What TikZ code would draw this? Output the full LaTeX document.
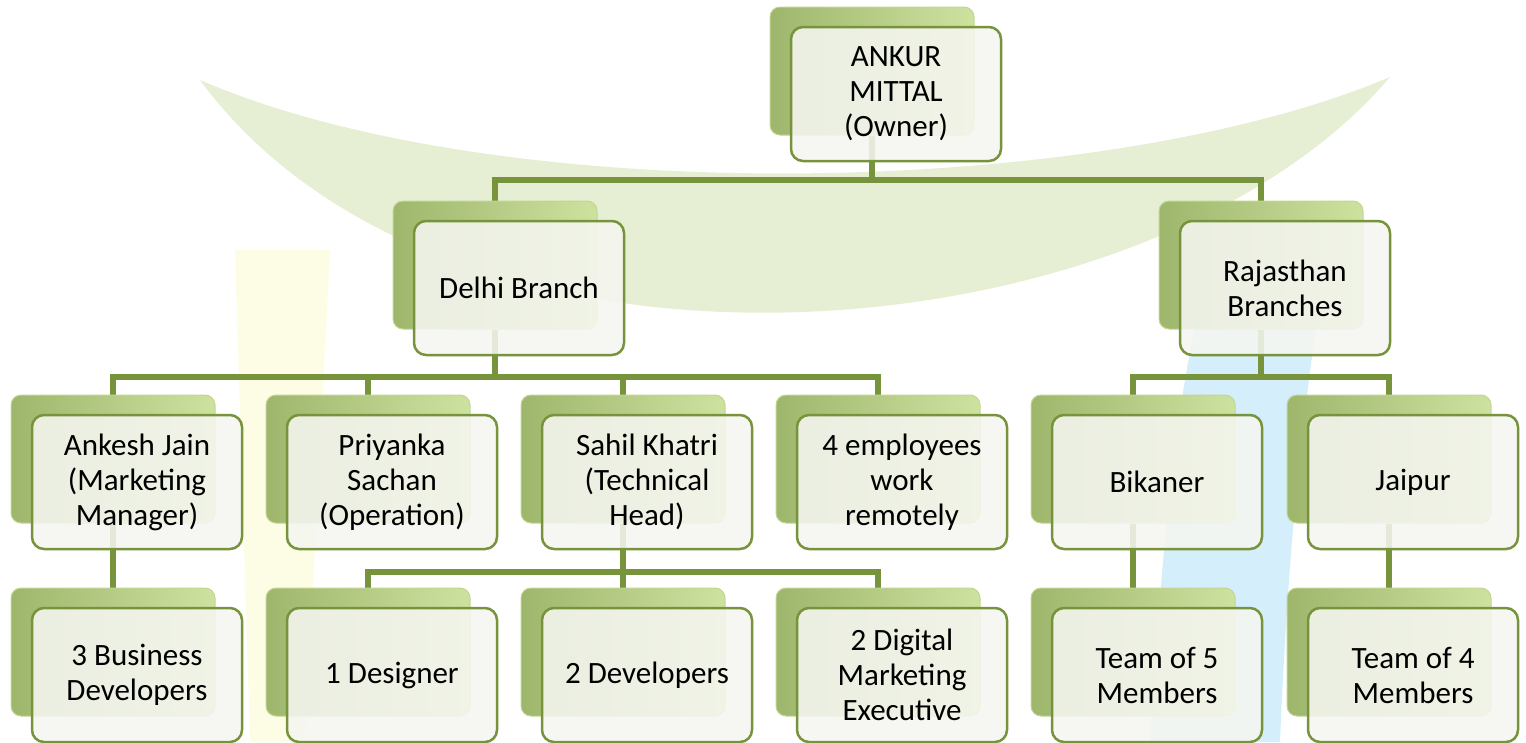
\documentclass[tikz,border=0pt]{standalone}
\usepackage{fontspec}
\setmainfont{Carlito}
\usepackage{xcolor}
\definecolor{LINKCOLOR}{RGB}{119,147,60}
\definecolor{FRONTCOLOR}{RGB}{245,246,240}
\definecolor{BACKLIGHT}{RGB}{206,226,160}
\definecolor{BACKDARK}{RGB}{158,182,108}
\definecolor{WASHGREEN}{RGB}{230,239,212}
\definecolor{WASHYELLOW}{RGB}{253,253,230}
\definecolor{WASHBLUE}{RGB}{212,239,251}
\usepackage{tikz}
\usetikzlibrary{positioning,calc,backgrounds}
\tikzset{
  back-style/.style = {
    rectangle, rounded corners=10pt,
    draw=BACKLIGHT!85!LINKCOLOR, line width=1pt,
    left color=BACKDARK, right color=BACKLIGHT,
    minimum width=204pt,
    minimum height=128pt
  },
  front-style/.style = {
    rectangle, rounded corners=12pt,
    draw=LINKCOLOR, line width=2.5pt,
    fill=FRONTCOLOR, fill opacity=0.88, text opacity=1,
    minimum width=210pt,
    minimum height=134pt,
    align=center, inner sep=2pt,
    font=\fontsize{31}{35}\selectfont
  },
  link-style/.style = {
    draw=LINKCOLOR, line width=6pt
  },
  wash-style/.style = {
    fill=#1, draw=none
  }
}
\def\createCard name:#1 at:#2 text:#3;{
  \node [back-style] (#1-b) at ($#2+(-24,-23)$) {};
  \node [front-style] (#1) at #2 {#3};
}
\def\createLinks from:#1 bus:#2 to:#3;{
  \foreach \child in {#3}
    \draw [link-style] (#1-b) -- (#1-b |- #2) -| (\child-b);
}

\begin{document}
\begin{tikzpicture}[x=1pt,y=-1pt]
  \useasboundingbox (0,0) rectangle (1526,742);

  \createCard name:owner at:(896,94) text:{ANKUR\\MITTAL\\(Owner)};

  \createCard name:delhi at:(519,288) text:{Delhi Branch};
  \createCard name:rajasthan at:(1285,288) text:{Rajasthan\\Branches};

  \createCard name:ankesh at:(137,482) text:{Ankesh Jain\\(Marketing\\Manager)};
  \createCard name:priyanka at:(392,482) text:{Priyanka\\Sachan\\(Operation)};
  \createCard name:sahil at:(647,482) text:{Sahil Khatri\\(Technical\\Head)};
  \createCard name:remote at:(902,482) text:{4 employees\\work\\remotely};
  \createCard name:bikaner at:(1157,482) text:{Bikaner};
  \createCard name:jaipur at:(1413,482) text:{Jaipur};

  \createCard name:bizdev at:(137,675) text:{3 Business\\Developers};
  \createCard name:designer at:(392,675) text:{1 Designer};
  \createCard name:developers at:(647,675) text:{2 Developers};
  \createCard name:digital at:(902,675) text:{2 Digital\\Marketing\\Executive};
  \createCard name:teamfive at:(1157,675) text:{Team of 5\\Members};
  \createCard name:teamfour at:(1413,675) text:{Team of 4\\Members};

  \begin{pgfonlayer}{background}
    % faint logo behind the chart
    \path[wash-style=WASHYELLOW] (235,250) -- (330,250) -- (305,742) -- (250,742) -- cycle;
    \path[wash-style=WASHBLUE] (1150,742) .. controls (1165,500) and (1180,350) .. (1225,215)
      -- (1335,215) .. controls (1310,350) and (1290,500) .. (1280,742) -- cycle;
    \path[wash-style=WASHGREEN] (200,80) .. controls (500,210) and (1100,200) .. (1390,77)
      .. controls (1150,360) and (450,420) .. cycle;

    \coordinate (bus-top) at (0,180);
    \coordinate (bus-mid) at (0,377);
    \coordinate (bus-low) at (0,572);
    \createLinks from:owner bus:bus-top to:{delhi,rajasthan};
    \createLinks from:delhi bus:bus-mid to:{ankesh,priyanka,sahil,remote};
    \createLinks from:rajasthan bus:bus-mid to:{bikaner,jaipur};
    \createLinks from:sahil bus:bus-low to:{designer,developers,digital};
    \draw [link-style] (ankesh-b) -- (bizdev-b);
    \draw [link-style] (bikaner-b) -- (teamfive-b);
    \draw [link-style] (jaipur-b) -- (teamfour-b);
  \end{pgfonlayer}
\end{tikzpicture}
\end{document}
